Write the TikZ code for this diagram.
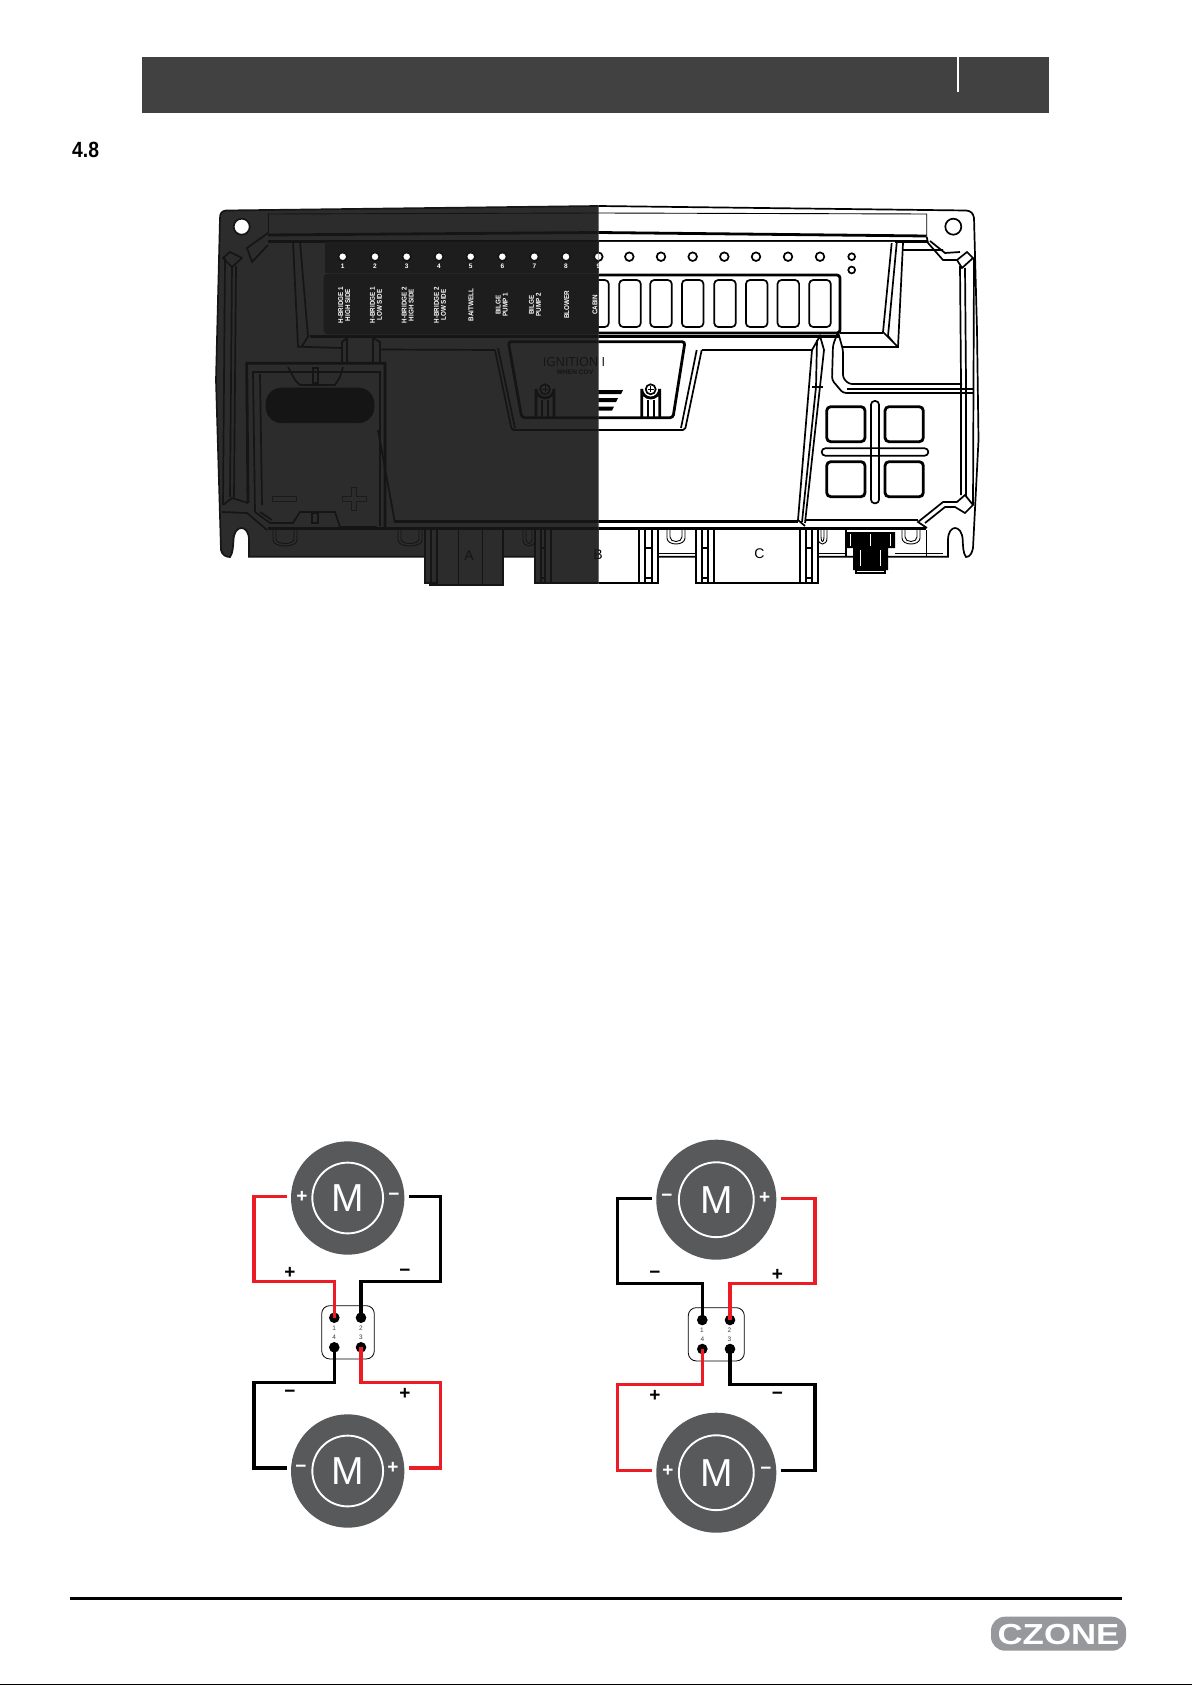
\documentclass[tikz,border=0pt]{standalone}
\usepackage{fontspec}
\setmainfont{Liberation Sans}
\newfontfamily\signfont{Open Sans}
\definecolor{headgrey}{HTML}{414141}
\definecolor{motorgrey}{HTML}{58595B}
\definecolor{logogrey}{HTML}{96989B}
\definecolor{wirered}{HTML}{ED1C24}
\definecolor{darkbody}{HTML}{2C2C2C}
\definecolor{darkpanel}{HTML}{1D1D1D}
\definecolor{darkline}{HTML}{151515}
\tikzset{
	thinl/.style={draw=ln,line width=.9pt},
	midl/.style={draw=ln,line width=1.7pt},
	boldl/.style={draw=ln,line width=2.8pt},
	motor/.style={circle,fill=motorgrey,minimum size=#1pt,inner sep=0pt,text=white,
		font=\fontsize{39}{39}\selectfont,
		path picture={\draw[white,line width=1.9pt] (path picture bounding box.center) circle[radius=#1*0.312];}},
	msign/.style={text=white,inner sep=0pt,font=\bfseries\fontsize{19}{19}\selectfont},
	wsign/.style={text=black,inner sep=0pt,font=\bfseries\fontsize{19}{19}\selectfont},
	wire/.style={line width=3.1pt,line join=miter},
	pinpt/.style={circle,fill=black,minimum size=10.6pt,inner sep=0pt},
	pinno/.style={text=black!75,inner sep=0pt,font=\fontsize{6.5}{6.5}\selectfont},
	plugbox/.style={draw=black,line width=.8pt,rounded corners=8pt},
	outlabel/.style={text=white,inner sep=0pt,rotate=90,xscale=.9,align=center,
		font=\bfseries\fontsize{7}{7}\selectfont},
	ledno/.style={text=white,inner sep=0pt,font=\bfseries\fontsize{6.5}{6.5}\selectfont},
}
% U shaped recess under the housing
\newcommand{\uslot}[3]{\draw[thinl] (#1,530) -- (#1,#3-8) .. controls (#1,#3) and (#2,#3) .. (#2,#3-8) -- (#2,530);
	\draw[thinl] (#1+3,530) -- (#1+3,#3-9) .. controls (#1+3,#3-3) and (#2-3,#3-3) .. (#2-3,#3-9) -- (#2-3,530);}
% lug on the side of a plug
\newcommand{\pluglug}[2]{\filldraw[fill=bd,midl] (#1,530) -- (#1,583) -- (#2,583) -- (#2,530);
	\draw[midl] (#1+6,530) -- (#1+6,583) (#2-6,530) -- (#2-6,583) (#1+6,548) -- (#2-6,548) (#1+6,578) -- (#2-6,578);}
% housing of the module: body fill, panel fill, line colour, lamp fill, panel edge
\newcommand{\ctrlbody}[5]{
	\colorlet{bd}{#1}\colorlet{pn}{#2}\colorlet{ln}{#3}\colorlet{ledc}{#4}\colorlet{pe}{#5}
	\filldraw[fill=bd,midl] (226,210.5) -- (598,206) -- (966,210.5) .. controls (971,211) and (973,213) .. (974,218)
		-- (977,330) -- (978.5,440) -- (973,548) .. controls (972,553) and (970,557) .. (966,557)
		.. controls (963,553) and (963,546) .. (962.7,540) .. controls (962,524) and (948,524) .. (948,540) -- (948,556.7)
		-- (249,556.7) -- (249,540) .. controls (249,524) and (234,524) .. (233.5,540)
		.. controls (233,546) and (233,553) .. (230,557) .. controls (226,557) and (222,555) .. (221,550)
		-- (216,380) -- (220,218) .. controls (220,213) and (222,211) .. (226,210.5) -- cycle;
	\draw[thinl] (658,553) -- (696,553) (818,553) -- (846,553) (895,553) -- (943,553) (926.7,530) -- (926.7,556);
	% plugs
	\filldraw[fill=bd,midl] (430,530) -- (430,585) -- (503,585) -- (503,530);
	\draw[thinl] (458,530) -- (458,585) (482,530) -- (482,585);
	\pluglug{425}{437}
	\filldraw[fill=bd,midl] (540,530) -- (540,583) -- (654,583) -- (654,530);
	\filldraw[fill=bd,midl] (700,530) -- (700,583) -- (812,583) -- (812,530);
	\pluglug{535}{551}\pluglug{639}{658}\pluglug{696}{714}\pluglug{800}{818}
	\node[text=ln,inner sep=0pt,font=\fontsize{14}{14}\selectfont] (plugA) at (469,556) {A};
	\node[text=ln,inner sep=0pt,font=\fontsize{14}{14}\selectfont] (plugB) at (598,555) {B};
	\node[text=ln,inner sep=0pt,font=\fontsize{14}{14}\selectfont] (plugC) at (759.3,553.5) {C};
	\uslot{273}{297}{548}\uslot{398}{422}{548}\uslot{523}{535}{548}\uslot{667}{685}{546}\uslot{902}{920}{546}\uslot{818}{827}{546}
	% cable gland
	\fill[ln] (847,532) rectangle (895,548) (853,548) rectangle (888,570);
	\draw[midl] (846,530) -- (846,556) (856,570) rectangle (885,573);
	\draw[bd,line width=.6pt] (850,534) -- (850,546) (860,550) -- (860,566) (870,534) -- (870,546) (880,550) -- (880,566) (890,534) -- (890,546);
	% mounting holes
	\filldraw[fill=white,midl] (241.7,226.7) circle[radius=8];
	\filldraw[fill=white,midl] (953.3,226.7) circle[radius=8];
	% top stripe
	\draw[thinl] (268,214) -- (598,213) -- (926.7,214) -- (926.7,236);
	\draw[thinl] (268,214) -- (268,233);
	\draw[boldl] (268,235) -- (598,232.5) -- (926.7,236);
	\draw[boldl] (268,241.7) -- (926.7,241.7);
	% corners
	\draw[midl] (268,233) -- (247,248) -- (252,262) -- (268,245);
	\draw[midl] (223,258) -- (230,252) -- (242,258) -- (232,267) -- cycle;
	\draw[midl] (223,505) -- (232,498) -- (248,503) (222,512) -- (247,513) -- (267,530) (260,512) -- (272,520);
	\draw[midl] (926.7,236.7) -- (928,243) -- (943,260) -- (957,260) -- (967,252) -- (973,258) -- (962,268) -- (957,260);
	\draw[midl] (930,241) -- (945,253) -- (960,252) (903,250) -- (943,250);
	\draw[midl] (927,528) -- (918,522) -- (943,502) -- (957,502) -- (965,495) -- (973,505) -- (965,513) -- (955,507) -- (945,507) -- (925,523);
	% sides
	\draw[midl] (960,266) -- (961,382) -- (961,495);
	\draw[midl] (965,268) -- (966,382) -- (966,496);
	\draw[midl] (974,258) -- (973,505);
	\draw[midl] (232,266) -- (230,497) (236,266) -- (234,497) (225,258) -- (223,505);
	% lamp panel walls
	\fill[pn] (325,242) -- (895,242) -- (892,273) -- (325,273) -- cycle;
	\filldraw[fill=pn,boldl,draw=pe,rounded corners=3pt] (325,275) -- (840,275) -- (840,333) -- (325,333) -- cycle;
	\draw[midl] (891.7,243) -- (883,332) -- (898,347) (896.7,243) -- (888,336) -- (894,343) (903,243) -- (898,347) -- (843,347);
	\draw[boldl] (840,333) -- (883,333);
	\draw[midl] (293,241.7) -- (298,346.7) -- (343,348) (300,241.7) -- (308,336.7) -- (301.7,346.7);
	\draw[boldl] (310,336.5) -- (840,336.5);
	% slots
	\foreach \xc in {598,630,661,692.7,725,756.7,788.3,820}
		\draw[midl,draw=pe,rounded corners=4pt] (\xc-10.8,280) rectangle (\xc+10.8,327);
	% lamps
	\foreach \xc in {342.7,375,406.7,439,470.7,502.3,534.3,566,598.3,629.3,661,692.7,724.3,756,788,820}
		\filldraw[fill=ledc,midl] (\xc,256.7) circle[radius=4.3];
	\filldraw[fill=ledc,midl] (851.7,256.7) circle[radius=3.4];
	\filldraw[fill=ledc,midl] (851.7,270) circle[radius=3.4];
	% ignition recess
	\draw[boldl,rounded corners=3pt] (508.3,341.7) -- (685,341.7) -- (673,417.7) -- (521.7,417.7) -- cycle;
	\draw[midl,rounded corners=2pt] (495,350) -- (511.7,430) -- (685,430) -- (701.7,350);
	\draw[midl] (498,348) -- (515,428) (696.7,350) -- (681,428);
	\draw[midl] (701.7,350) -- (812,350);
	\draw[midl] (380,349.5) -- (495,350);
	\node[text=ln,inner sep=0pt,anchor=west,font=\signfont\fontsize{12.6}{12.6}\selectfont] (ignit) at (542.7,361.7) {IGNITION I};
	\node[text=ln,inner sep=0pt,anchor=west,font=\bfseries\fontsize{6.6}{6.6}\selectfont] (cover) at (556.7,372) {WHEN COV};
	% screws
	\foreach \xc in {545,650.7}{
		\draw[boldl] (\xc-9,417) -- (\xc-9,389) arc[start angle=180,end angle=0,radius=9] -- (\xc+9,417);
		\draw[midl] (\xc-3,400) -- (\xc-3,417) (\xc+3,400) -- (\xc+3,417);
		\draw[midl] (\xc,389.3) circle[radius=5];
		\draw[thinl] (\xc-3,389.3) -- (\xc+3,389.3) (\xc,386.3) -- (\xc,392.3);}
	% arrow mark
	\fill[ln] (598,390) -- (623,390) -- (621,394) -- (598,394) -- cycle;
	\fill[ln] (598,398) -- (618,398) -- (616,402) -- (598,402) -- cycle;
	\fill[ln] (598,406.5) -- (614,406.5) -- (612,410.5) -- (598,410.5) -- cycle;
	% big compartment
	\draw[midl] (812,350) -- (820,336) -- (824,350) -- (805,523);
	\draw[midl] (812,350) -- (798,520) -- (805,526);
	\draw[midl] (817,340) -- (816,387) -- (802,522);
	\draw[midl] (812,387) -- (823,387);
	\draw[boldl] (395,521.5) -- (798,521.5);
	\draw[midl] (805,520) -- (918,520);
	\draw[boldl] (268,528.7) -- (926,528.7);
	% side bay
	\draw[midl,rounded corners=3pt] (838,332) -- (833,345) -- (832,380) -- (843,393) -- (973,393);
	\draw[midl,rounded corners=3pt] (838,332) -- (843,350) -- (843,378) -- (849,384) -- (962,384);
	\draw[midl] (847,389) -- (973,389);
	% vent pattern
	\foreach \xa/\ya in {826.7/406.7,885/406.7,826.7/461.7,885/461.7}
		\draw[boldl,rounded corners=4pt] (\xa,\ya) rectangle (\xa+38.3,\ya+35);
	\draw[midl,rounded corners=3.6pt] (821.7,448.3) rectangle (928.3,455.7);
	\draw[midl,rounded corners=3.6pt] (871,401) rectangle (879,503.3);
	\fill[bd] (871.8,449) rectangle (878.2,455);
	% battery door
	\draw[boldl] (248,503) -- (246.7,363.3) -- (385,363.3) -- (385,528);
	\draw[midl] (255,512) -- (253,372) -- (380,372) -- (380,526);
	\draw[midl] (262,505) -- (260,374);
	\draw[midl] (255,512) -- (270,523) -- (293,523) -- (300,512) -- (335,512) -- (340,527) -- (377,527);
	\draw[midl] (378,430) -- (395,523);
	\draw[midl] (342,363) -- (342,342) -- (347,338) -- (347,363) (373,363) -- (373,338) -- (380,342) -- (380,363);
	\draw[midl] (288,367) -- (295,380) -- (300,385) -- (335,385) -- (340,377) -- (343,367);
	\draw[midl] (313,368) rectangle (318,383) (312,513) rectangle (318,523);
	\filldraw[fill=ln,thinl,rounded corners=16pt] (266,388) rectangle (374,422.7);
	\draw[ln!75!bd,line width=.8pt] (272,496.5) rectangle (296,501.5);
	\draw[ln!75!bd,line width=.8pt] (342,496.5) -- (351,496.5) -- (351,487) -- (356,487) -- (356,496.5) -- (366,496.5) -- (366,501.5) -- (356,501.5) -- (356,510) -- (351,510) -- (351,501.5) -- (342,501.5) -- cycle;
}
\begin{document}
\begin{tikzpicture}[x=1pt,y=-1pt]
	\path[use as bounding box,fill=white] (0,0) rectangle (1192,1685);
	% header
	\fill[headgrey] (142,57) rectangle (1049,113);
	\draw[white,line width=1.2pt] (958,57) -- (958,91.7);
	\node[inner sep=0pt,anchor=west,xscale=.88,font=\bfseries\fontsize{22}{22}\selectfont] (secno) at (72,149.5) {4.8};
	% module, two halves
	\begin{scope}
		\clip (598.5,190) rectangle (1000,600);
		\ctrlbody{white}{white}{black}{white}{black}
	\end{scope}
	\begin{scope}
		\clip (190,190) rectangle (598.5,600);
		\ctrlbody{darkbody}{darkpanel}{darkline}{white}{darkpanel}
		\foreach \xc/\num in {342.7/1,375/2,406.7/3,439/4,470.7/5,502.3/6,534.3/7,566/8,598.3/9}
			\node[ledno] (no\num) at (\xc,266.7) {\num};
		\node[outlabel] (out1) at (344.3,305) {H-BRIDGE 1\\HIGH SIDE};
		\node[outlabel] (out2) at (376,305) {H-BRIDGE 1\\LOW SIDE};
		\node[outlabel] (out3) at (407.7,305) {H-BRIDGE 2\\HIGH SIDE};
		\node[outlabel] (out4) at (440,305) {H-BRIDGE 2\\LOW SIDE};
		\node[outlabel] (out5) at (471,305) {BAITWELL};
		\node[outlabel] (out6) at (501.7,305) {BILGE\\PUMP 1};
		\node[outlabel] (out7) at (535,305) {BILGE\\PUMP 2};
		\node[outlabel] (out8) at (566.7,305) {BLOWER};
		\node[outlabel] (out9) at (595,305) {CABIN};
	\end{scope}
	% left wiring
	\node[motor=113.4] (mA) at (347.7,1198) {M};
	\node[motor=113.4] (mB) at (347.7,1471) {M};
	\node[msign] (mAp) at (302,1196.5) {+};
	\node[msign] (mAm) at (394,1196.5) {−};
	\node[msign] (mBm) at (301,1469) {−};
	\node[msign] (mBp) at (393,1468) {+};
	\node[plugbox,minimum width=52.6pt,minimum height=53.3pt] (plugL) at (348,1332.3) {};
	\node[pinpt] (pL1) at (334.3,1317.7) {};
	\node[pinpt] (pL2) at (361,1317.7) {};
	\node[pinpt] (pL4) at (334.3,1347.3) {};
	\node[pinpt] (pL3) at (361,1347.3) {};
	\node[pinno] (nL1) at (334.3,1328) {1};
	\node[pinno] (nL2) at (361,1328) {2};
	\node[pinno] (nL4) at (334.3,1337.3) {4};
	\node[pinno] (nL3) at (361,1337.3) {3};
	\coordinate (tA1) at (286.7,1196.7);
	\coordinate (tA2) at (409,1196.7);
	\coordinate (tB4) at (286.7,1468);
	\coordinate (tB3) at (409,1468);
	\coordinate (bL1) at (254,1281.7);
	\coordinate (bL2) at (440.7,1281.7);
	\coordinate (bL4) at (254,1382.7);
	\coordinate (bL3) at (440.7,1382.7);
	% right wiring
	\node[motor=120] (mC) at (716.3,1199.7) {M};
	\node[motor=120] (mD) at (716.3,1472.7) {M};
	\node[msign] (mCm) at (667,1198) {−};
	\node[msign] (mCp) at (764.7,1198) {+};
	\node[msign] (mDp) at (668,1471) {+};
	\node[msign] (mDm) at (766,1471) {−};
	\node[plugbox,minimum width=56pt,minimum height=53.3pt] (plugR) at (716.3,1334.3) {};
	\node[pinpt] (pR1) at (702.3,1320) {};
	\node[pinpt] (pR2) at (730,1320) {};
	\node[pinpt] (pR4) at (702.3,1349) {};
	\node[pinpt] (pR3) at (730,1349) {};
	\node[pinno] (nR1) at (702,1330) {1};
	\node[pinno] (nR2) at (729.3,1330) {2};
	\node[pinno] (nR4) at (702.3,1339.3) {4};
	\node[pinno] (nR3) at (729.3,1339.3) {3};
	\coordinate (tC1) at (652,1198.7);
	\coordinate (tC2) at (780.7,1198.7);
	\coordinate (tD4) at (652,1470.3);
	\coordinate (tD3) at (780.7,1470.3);
	\coordinate (bR1) at (617.3,1283.7);
	\coordinate (bR2) at (815,1283.7);
	\coordinate (bR4) at (617.3,1384.3);
	\coordinate (bR3) at (815,1384.3);
	\foreach \from/\via/\to/\wcol in {tA1/bL1/pL1/wirered,tA2/bL2/pL2/black,tB4/bL4/pL4/black,tB3/bL3/pL3/wirered,
		tC1/bR1/pR1/black,tC2/bR2/pR2/wirered,tD4/bR4/pR4/wirered,tD3/bR3/pR3/black}
		\draw[wire,draw=\wcol] (\from) -| (\via) -| (\to.center);
	\node[wsign] (sL1) at (290,1273.3) {+};
	\node[wsign] (sL2) at (405,1273.3) {−};
	\node[wsign] (sL4) at (290,1393.7) {−};
	\node[wsign] (sL3) at (405,1394) {+};
	\node[wsign] (sR1) at (655,1275) {−};
	\node[wsign] (sR2) at (777.3,1275) {+};
	\node[wsign] (sR4) at (655,1396) {+};
	\node[wsign] (sR3) at (777.3,1396) {−};
	% footer
	\draw[line width=3.2pt] (70,1598.7) -- (1122,1598.7);
	\fill[logogrey,rounded corners=14pt] (991,1616.7) rectangle (1126,1650.7);
	\node[text=white,inner sep=0pt,xscale=1.2,font=\bfseries\fontsize{29}{29}\selectfont] (logo) at (1058.5,1634) {CZONE};
	\draw[line width=1pt] (0,1684.5) -- (1192,1684.5);
\end{tikzpicture}
\end{document}
